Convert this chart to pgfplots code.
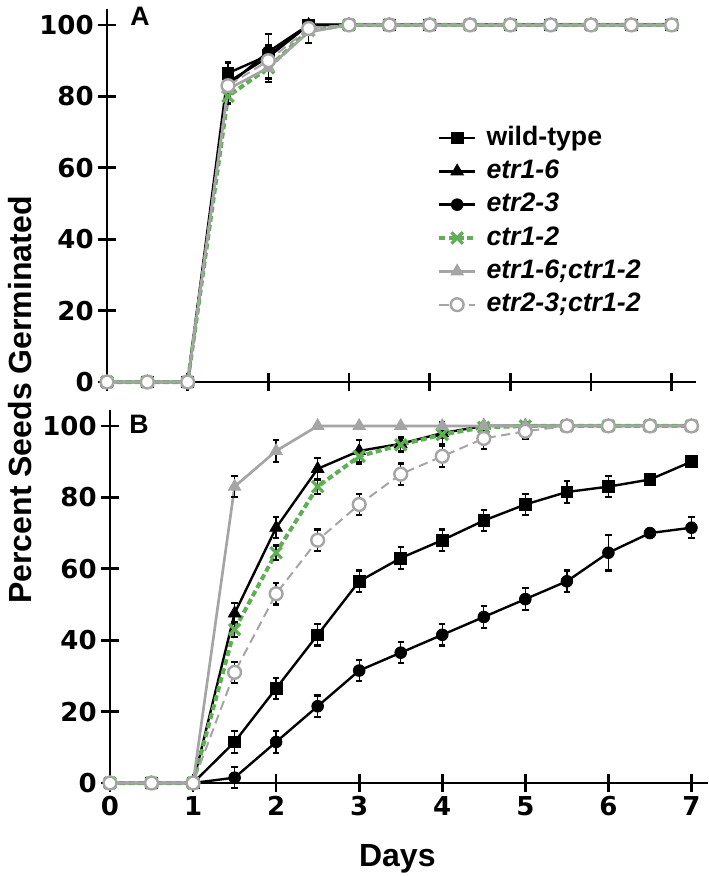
\documentclass[border=0pt]{standalone}
\usepackage{pgfplots}
\pgfplotsset{compat=1.18}
\usepackage{fontspec}
\setmainfont{Liberation Sans}
\newfontfamily\tickfont{DejaVu Sans}

\definecolor{ltgray}{RGB}{165,165,165}
\definecolor{ctrgreen}{RGB}{95,175,85}

\pgfplotsset{
  panel/.style={
    axis lines=left, axis line style={-, line width=2pt},
    every tick/.style={line width=2pt, black}, major tick length=13pt, tick align=center,
    ymin=0, ymax=104.5, ytick={0,20,...,100},
    xmin=0, xtick={0,...,7},
    clip=false, anchor=origin,
    /pgf/number format/assume math mode=true,
    ticklabel style={font=\tickfont\bfseries\fontsize{19.5}{20}\selectfont},
    legend image code/.code={\draw[mark repeat=2,mark phase=2] plot coordinates {(0pt,0pt) (13.5pt,0pt) (27pt,0pt)};},
    error bars/y dir=both, error bars/y explicit,
    error bars/error bar style={black, line width=1pt, solid},
    error bars/error mark options={black, line width=1.6pt, mark size=2.4pt, rotate=90},
  },
  wt/.style={black, line width=1.8pt, mark=square*, mark size=4.4pt, mark options={solid, line width=0.6pt}},
  etrA/.style={black, line width=1.8pt, mark=triangle*, mark size=5.4pt, mark options={solid, line width=0.6pt}},
  etrB/.style={black, line width=1.8pt, mark=*, mark size=4.4pt, mark options={solid, line width=0.6pt}},
  ctr/.style={ctrgreen, line width=3pt, dash pattern=on 4.5pt off 2.5pt, mark=x, mark size=6pt, mark options={solid, line width=2.4pt}},
  etrActr/.style={ltgray, line width=2pt, mark=triangle*, mark size=5.4pt, mark options={solid, line width=0.6pt}},
  etrBctr/.style={ltgray, line width=1.5pt, dash pattern=on 7pt off 4pt, mark=*, mark size=4.8pt, mark options={solid, fill=white, draw=ltgray, line width=1.8pt}},
}

\begin{document}
\begin{tikzpicture}
\useasboundingbox (0,0) rectangle (531.75pt,-657pt);

% panel A
\begin{axis}[panel, at={(80.25pt,-286.5pt)}, x=60.5pt, y=2.678pt, xmax=7.3, xticklabels={},
  legend cell align=left,
  legend style={draw=none, fill=none, inner sep=0pt, at={(axis cs:4.09,45)}, anchor=west,
    font=\bfseries\fontsize{20}{20}\selectfont, row sep=6pt, column sep=7pt,
    nodes={inner sep=0pt, text height=15pt, text depth=4pt}}]
\addplot[wt] table[x=x, y=y, y error=e] {
x y e
0 0 0
0.5 0 0
1 0 0
1.5 86.5 3
2 91.5 3
2.5 100 1.5
3 100 0
3.5 100 0
4 100 0
4.5 100 0
5 100 0
5.5 100 0
6 100 0
6.5 100 0
7 100 0
};
\addlegendentry{wild-type}
\addplot[etrA] table[x=x, y=y, y error=e] {
x y e
0 0 0
0.5 0 0
1 0 0
1.5 84 2
2 91 3
2.5 100 1
3 100 0
3.5 100 0
4 100 0
4.5 100 0
5 100 0
5.5 100 0
6 100 0
6.5 100 0
7 100 0
};
\addlegendentry{\textit{etr1-6}}
\addplot[etrB] table[x=x, y=y, y error=e] {
x y e
0 0 0
0.5 0 0
1 0 0
1.5 83 2
2 92.5 5
2.5 100 1
3 100 0
3.5 100 0
4 100 0
4.5 100 0
5 100 0
5.5 100 0
6 100 0
6.5 100 0
7 100 0
};
\addlegendentry{\textit{etr2-3}}
\addplot[ctr] table[x=x, y=y, y error=e] {
x y e
0 0 0
0.5 0 0
1 0 0
1.5 80 2
2 88 3
2.5 98.5 1
3 100 0
3.5 100 0
4 100 0
4.5 100 0
5 100 0
5.5 100 0
6 100 0
6.5 100 0
7 100 0
};
\addlegendentry{\textit{ctr1-2}}
\addplot[etrActr] table[x=x, y=y, y error=e] {
x y e
0 0 0
0.5 0 0
1 0 0
1.5 82 2
2 88 4
2.5 98 3
3 100 0
3.5 100 0
4 100 0
4.5 100 0
5 100 0
5.5 100 0
6 100 0
6.5 100 0
7 100 0
};
\addlegendentry{\textit{etr1-6;ctr1-2}}
\addplot[etrBctr] table[x=x, y=y, y error=e] {
x y e
0 0 0
0.5 0 0
1 0 0
1.5 83 2
2 90 3
2.5 99 1
3 100 0
3.5 100 0
4 100 0
4.5 100 0
5 100 0
5.5 100 0
6 100 0
6.5 100 0
7 100 0
};
\addlegendentry{\textit{etr2-3;ctr1-2}}
\node[font=\bfseries\fontsize{20}{20}\selectfont] at (axis cs:0.41,102.5) {A};
\end{axis}

% panel B
\begin{axis}[panel, at={(82.5pt,-587.25pt)}, x=62.3pt, y=2.678pt, xmax=7.2]
\addplot[wt] table[x=x, y=y, y error=e] {
x y e
0 0 0
0.5 0 0
1 0 0
1.5 11.5 3
2 26.5 3
2.5 41.5 3
3 56.5 3
3.5 63 3
4 68 3
4.5 73.5 3
5 78 3
5.5 81.5 3
6 83 3
6.5 85 0
7 90 0
};
\addplot[etrA] table[x=x, y=y, y error=e] {
x y e
0 0 0
0.5 0 0
1 0 0
1.5 47.5 3
2 71.5 3
2.5 88 3
3 93 3
3.5 95 2
4 98 3
4.5 100 0
5 100 0
5.5 100 0
6 100 0
6.5 100 0
7 100 0
};
\addplot[etrB] table[x=x, y=y, y error=e] {
x y e
0 0 0
0.5 0 0
1 0 0
1.5 1.5 3
2 11.5 3
2.5 21.5 3
3 31.5 3
3.5 36.5 3
4 41.5 3
4.5 46.5 3
5 51.5 3
5.5 56.5 3
6 64.5 5
6.5 70 0
7 71.5 3
};
\addplot[ctr] table[x=x, y=y, y error=e] {
x y e
0 0 0
0.5 0 0
1 0 0
1.5 43 2
2 64.5 2
2.5 83 2
3 91.5 2
3.5 94.7 2
4 97.6 1
4.5 99.6 1
5 100 1
5.5 100 0
6 100 0
6.5 100 0
7 100 0
};
\addplot[etrActr] table[x=x, y=y, y error=e] {
x y e
0 0 0
0.5 0 0
1 0 0
1.5 83 3
2 93 3
2.5 100 0
3 100 0
3.5 100 0
4 100 0
4.5 100 0
5 100 0
5.5 100 0
6 100 0
6.5 100 0
7 100 0
};
\addplot[etrBctr] table[x=x, y=y, y error=e] {
x y e
0 0 0
0.5 0 0
1 0 0
1.5 31 3
2 53 3
2.5 68 3
3 78 3
3.5 86.5 3
4 91.5 3
4.5 96.5 3
5 98.5 2
5.5 100 0
6 100 0
6.5 100 0
7 100 0
};
\node[font=\bfseries\fontsize{20}{20}\selectfont] at (axis cs:0.35,100.5) {B};
\end{axis}

\node[rotate=90, font=\bfseries\fontsize{24}{24}\selectfont] at (15pt,-300pt) {Percent Seeds Germinated};
\node[anchor=base, font=\bfseries\fontsize{24}{24}\selectfont] at (298pt,-649.5pt) {Days};
\end{tikzpicture}
\end{document}
